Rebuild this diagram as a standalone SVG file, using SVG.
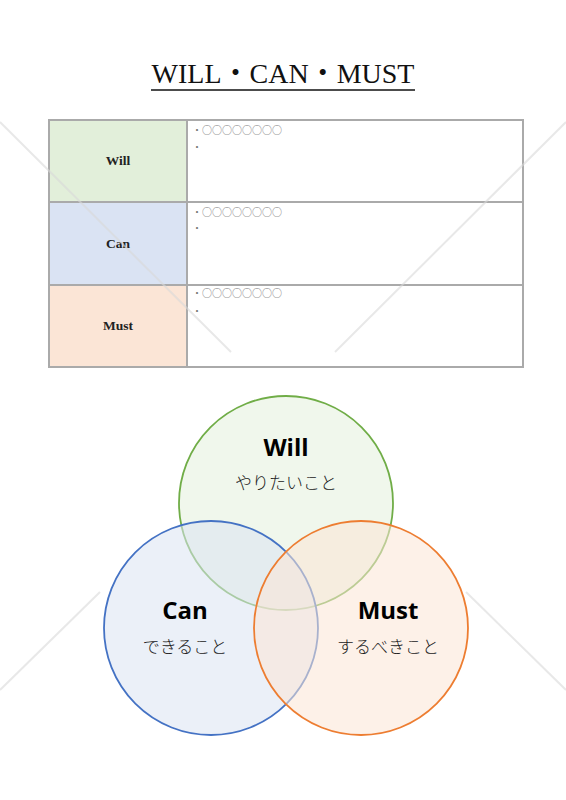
<svg xmlns="http://www.w3.org/2000/svg" width="566" height="800" viewBox="0 0 566 800">
<style>
.wm{stroke:#d8d8d8;stroke-opacity:0.6;stroke-width:2;fill:none}
.cell{stroke:#aaaaaa;stroke-width:2}
.lbl{font-family:"Liberation Serif","Noto Sans CJK JP",serif;font-size:13.5px;font-weight:bold;fill:#222;text-anchor:middle}
.bul{font-family:"Noto Sans CJK JP",sans-serif;font-size:10px;fill:#777}
.vt{font-family:"Open Sans","Liberation Sans",sans-serif;font-weight:bold;font-size:24px;fill:#000;text-anchor:middle}
.vj{font-family:"Noto Sans CJK JP",sans-serif;font-weight:300;font-size:17px;fill:#222;text-anchor:middle}
</style>
<rect width="566" height="800" fill="#fff"/>
<g id="title">
<text x="283" y="83" font-family="Liberation Serif,'Noto Sans CJK JP',serif" font-size="28" text-anchor="middle" fill="#111">WILL・CAN・MUST</text>
<line x1="151" y1="90" x2="415" y2="90" stroke="#111" stroke-width="1.5"/>
</g>
<g id="table">
<rect class="cell" x="49" y="120" width="138" height="82" fill="#e2efda"/>
<rect class="cell" x="49" y="202" width="138" height="83" fill="#dae3f3"/>
<rect class="cell" x="49" y="285" width="138" height="82" fill="#fbe5d6"/>
<rect class="cell" x="187" y="120" width="336" height="82" fill="#fff"/>
<rect class="cell" x="187" y="202" width="336" height="83" fill="#fff"/>
<rect class="cell" x="187" y="285" width="336" height="82" fill="#fff"/>
<text class="lbl" x="118" y="165">Will</text>
<text class="lbl" x="118" y="248">Can</text>
<text class="lbl" x="118" y="330">Must</text>
<text class="bul" x="192" y="134">・○○○○○○○○</text>
<text class="bul" x="192" y="151">・</text>
<text class="bul" x="192" y="216">・○○○○○○○○</text>
<text class="bul" x="192" y="232">・</text>
<text class="bul" x="192" y="297">・○○○○○○○○</text>
<text class="bul" x="192" y="315">・</text>
</g>
<g id="will">
<circle cx="286" cy="503" r="107" fill="#e2efda" fill-opacity="0.5" stroke="#70ad47" stroke-width="1.8"/>
</g>
<g id="can">
<circle cx="211" cy="628" r="107" fill="#dae3f3" fill-opacity="0.55" stroke="#4472c4" stroke-width="1.8"/>
</g>
<g id="must">
<circle cx="361" cy="628" r="107" fill="#fbe5d6" fill-opacity="0.55" stroke="#ed7d31" stroke-width="1.8"/>
</g>
<g id="labels">
<text class="vt" x="286" y="456">Will</text>
<text class="vj" x="286" y="489">やりたいこと</text>
<text class="vt" x="185" y="619">Can</text>
<text class="vj" x="185" y="653">できること</text>
<text class="vt" x="388" y="619">Must</text>
<text class="vj" x="388" y="653">するべきこと</text>
</g>
<g id="watermark">
<line class="wm" x1="0" y1="122" x2="231" y2="352"/>
<line class="wm" x1="566" y1="122" x2="335" y2="352"/>
<line class="wm" x1="0" y1="690" x2="100" y2="592"/>
<line class="wm" x1="566" y1="690" x2="466" y2="592"/>
</g>
</svg>
